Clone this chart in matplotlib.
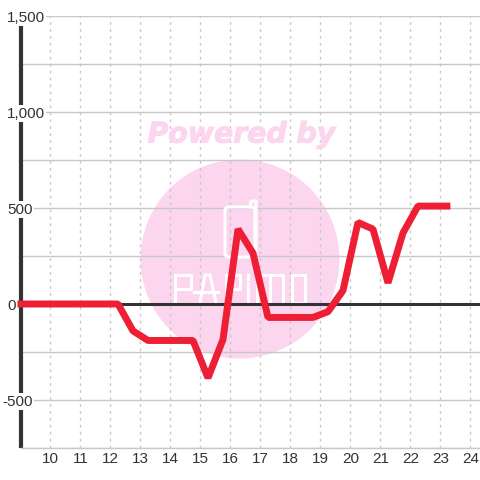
import matplotlib
matplotlib.use('Agg')
import matplotlib.pyplot as plt
import matplotlib.patheffects as pe
from matplotlib.patches import Circle, FancyBboxPatch
from matplotlib.transforms import Affine2D, IdentityTransform, blended_transform_factory

# dados (meia em meia hora)
horas = [8.9, 9.25, 9.75, 10.25, 10.75, 11.25, 11.75, 12.25, 12.75, 13.25, 13.75, 14.25, 14.75,
         15.25, 15.75, 16.25, 16.75, 17.25, 17.75, 18.25, 18.75, 19.25, 19.75, 20.25, 20.75,
         21.25, 21.75, 22.25, 22.75, 23.33]
valores = [0, 0, 0, 0, 0, 0, 0, 0, -140, -190, -190, -190, -190,
           -385, -185, 390, 265, -70, -70, -70, -70, -40, 70, 425, 390,
           110, 370, 510, 510, 510]
x_ticks = list(range(10, 25))
y_ticks = [1500, 1000, 500, 0, -500]
y_labels = ['1,500', '1,000', '500', '0', '-500']
y_minor = [1250, 750, 250, -250, -750]

plt.rcParams['font.family'] = ['Liberation Sans', 'DejaVu Sans']

fig = plt.figure(figsize=(4.8, 4.8), dpi=100)
ax = fig.add_axes([20.5/480, 32/480, 459.5/480, 432/480])
ax.set_xlim(9, 24.317)
ax.set_ylim(-750, 1500)

# transforma pixels da imagem (origem em cima) para o display
px = Affine2D().scale(1, -1).translate(0, 480)
rosa = '#fcd5ee'
ax.add_patch(Circle((240, 259), 99.5, color=rosa, lw=0, transform=px, zorder=0.5))
fig.text(241.5/480, 1-134.5/480, 'Powered by', family='DejaVu Sans', weight='bold', style='oblique',
         fontsize=20.4, color=rosa, ha='center', va='center', zorder=0,
         path_effects=[pe.withStroke(linewidth=0.8, foreground=rosa)])
ax.patch.set_alpha(0)

# logo branco
ax.add_patch(FancyBboxPatch((225, 207), 30, 50, boxstyle='round,pad=0,rounding_size=4', fc='none', ec='white',
                            lw=2.2, transform=px, zorder=0.6))
ax.plot([250, 251, 256, 256], [207, 201, 201, 250], color='white', lw=2.2, transform=px, zorder=0.6)
letras = [([175, 175], [303, 275]), ([175, 191, 191, 175], [275, 275, 289, 289]),
          ([200, 205, 210, 216], [303, 275, 275, 303]), ([194, 218], [292, 292]),
          ([226, 226], [303, 275]), ([226, 240, 240, 226], [275, 275, 289, 289]),
          ([248, 248], [303, 283]), ([248, 248], [279, 275]),
          ([257, 257, 283, 283], [303, 275, 275, 303]), ([270, 270], [275, 303]),
          ([292, 292, 305, 305, 292], [303, 275, 275, 303, 303])]
for lx, ly in letras:
    ax.plot(lx, ly, color='white', lw=2.2, transform=px, zorder=0.6)

ax.set_yticks(y_ticks + y_minor)
ax.set_xticks(x_ticks)
ax.tick_params(length=0, labelleft=False, labelsize=11, colors='#333333', pad=3)
ax.grid(axis='y', color='#c8c8c8', lw=1, zorder=1)
ax.grid(axis='x', color='#c8c8c8', lw=1, ls=(0, (2, 3)), zorder=1)
ax.set_axisbelow(True)
for s in ['top', 'right']:
    ax.spines[s].set_visible(False)
ax.spines['bottom'].set_color('#c8c8c8')
ax.spines['bottom'].set_linewidth(1)
ax.spines['left'].set_color('#333333')
ax.spines['left'].set_linewidth(3)
ax.spines['left'].set_capstyle('butt')
ax.axhline(0, color='#333333', lw=2.2, zorder=2)

ax.plot(horas, valores, color='#ee1f34', lw=5, solid_capstyle='butt', solid_joinstyle='bevel', zorder=3, clip_on=False)

trans = blended_transform_factory(IdentityTransform(), ax.transData)
for v, lab in zip(y_ticks, y_labels):
    dx = 2 if lab.startswith('-') else 7
    ax.text(dx, v, lab, transform=trans, fontsize=11, color='#333333', ha='left', va='center_baseline',
            clip_on=False, zorder=5, bbox=dict(fc='white', ec='none', pad=0.8))

fig.savefig('out.png', dpi=100)
